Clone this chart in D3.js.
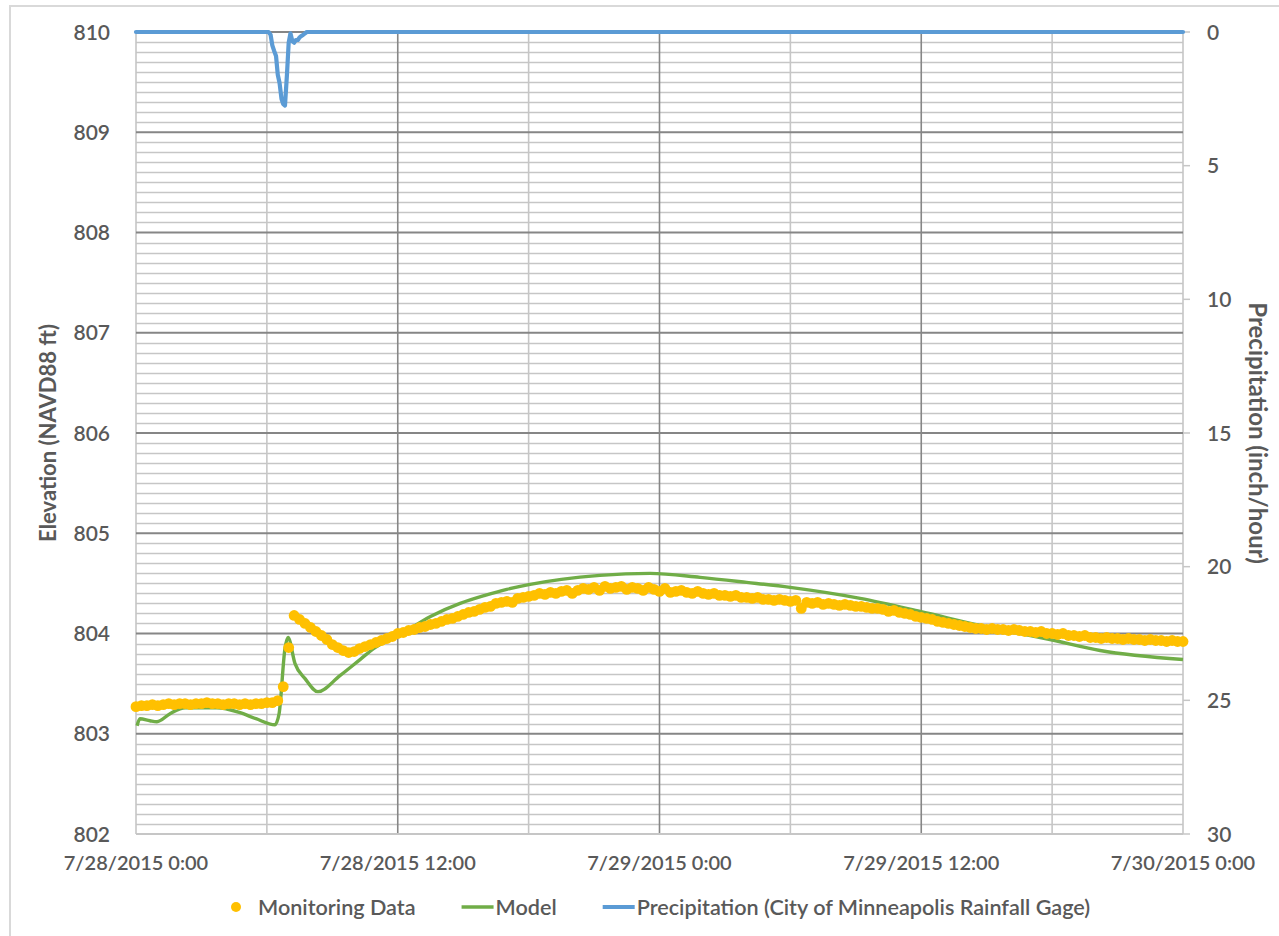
<!DOCTYPE html>
<html>
<head>
<meta charset="utf-8">
<script src="https://cdn.jsdelivr.net/npm/d3@7"></script>
<style>
  html, body { margin: 0; padding: 0; background: #fff; }
  svg { display: block; }
  text { font-family: Lato, "Open Sans", sans-serif; fill: #595959; }
</style>
</head>
<body>
<svg id="chart" width="1279" height="936"></svg>
<script>
// ---------- DATA ----------
const xTickHours = [0, 12, 24, 36, 48];
const xTickLabels = ["7/28/2015 0:00", "7/28/2015 12:00", "7/29/2015 0:00", "7/29/2015 12:00", "7/30/2015 0:00"];
const elevTicks = [802, 803, 804, 805, 806, 807, 808, 809, 810];
const precipTicks = [0, 5, 10, 15, 20, 25, 30];

// Monitoring data: 15-minute readings from 7/28/2015 0:00 (hours since start = index * 0.25)
const monitoringElev = [
  803.27, 803.28, 803.28, 803.29,
  803.28, 803.29, 803.30, 803.29,
  803.30, 803.30, 803.29, 803.30,
  803.30, 803.31, 803.30, 803.30,
  803.29, 803.30, 803.30, 803.29,
  803.30, 803.29, 803.30, 803.30,
  803.31, 803.31, 803.33, 803.47,
  803.86, 804.18, 804.14, 804.10,
  804.06, 804.02, 803.98, 803.94,
  803.89, 803.86, 803.83, 803.81,
  803.82, 803.85, 803.87, 803.89,
  803.91, 803.93, 803.95, 803.97,
  804.00, 804.01, 804.03, 804.04,
  804.06, 804.07, 804.09, 804.10,
  804.12, 804.14, 804.15, 804.17,
  804.19, 804.21, 804.22, 804.24,
  804.26, 804.27, 804.30, 804.31,
  804.32, 804.31, 804.35, 804.36,
  804.37, 804.38, 804.40, 804.39,
  804.41, 804.40, 804.42, 804.43,
  804.40, 804.43, 804.45, 804.44,
  804.46, 804.43, 804.47, 804.45,
  804.46, 804.47, 804.44, 804.46,
  804.45, 804.43, 804.46, 804.44,
  804.42, 804.45, 804.41, 804.42,
  804.43, 804.41, 804.40, 804.42,
  804.40, 804.39, 804.40, 804.38,
  804.38, 804.37, 804.38, 804.36,
  804.36, 804.35, 804.36, 804.34,
  804.34, 804.33, 804.34, 804.33,
  804.32, 804.33, 804.25, 804.31,
  804.30, 804.31, 804.29, 804.30,
  804.29, 804.28, 804.29, 804.28,
  804.27, 804.27, 804.26, 804.25,
  804.25, 804.24, 804.22, 804.23,
  804.21, 804.20, 804.19, 804.17,
  804.16, 804.15, 804.14, 804.12,
  804.11, 804.10, 804.09, 804.08,
  804.07, 804.06, 804.05, 804.05,
  804.04, 804.05, 804.04, 804.04,
  804.03, 804.04, 804.03, 804.02,
  804.02, 804.01, 804.02, 804.00,
  804.00, 803.99, 804.00, 803.98,
  803.98, 803.97, 803.98, 803.96,
  803.96, 803.95, 803.96, 803.95,
  803.95, 803.94, 803.95, 803.94,
  803.94, 803.93, 803.94, 803.93,
  803.93, 803.92, 803.93, 803.92,
  803.92
];

// Model output (hours since start, elevation ft)
const modelHours = [0.05, 0.18, 0.64, 0.96, 1.56, 2.25, 3.71, 4.77, 5.5, 6.37, 6.56, 6.83, 6.97, 7.29, 7.75, 8.34, 9.35, 10.27, 10.96, 11.97, 13.5, 14.86, 16.0, 17.0, 18.07, 19.5, 21.27, 23.57, 25.86, 28.0, 29.99, 33.2, 35.95, 38.7, 41.9, 44.2, 48.0];
const modelElev  = [803.08, 803.15, 803.13, 803.12, 803.20, 803.26, 803.26, 803.21, 803.15, 803.09, 803.20, 803.85, 803.96, 803.70, 803.55, 803.42, 803.58, 803.74, 803.86, 803.97, 804.17, 804.30, 804.38, 804.44, 804.49, 804.54, 804.58, 804.60, 804.56, 804.51, 804.46, 804.35, 804.22, 804.08, 803.94, 803.83, 803.74];

// Precipitation (hours since start, inch/hour)
const precipHours = [0, 6.0, 6.08, 6.17, 6.25, 6.33, 6.42, 6.5, 6.58, 6.67, 6.75, 6.83, 6.92, 7.0, 7.08, 7.17, 7.25, 7.33, 7.42, 7.5, 7.58, 7.67, 7.75, 7.83, 48];
const precipRate  = [0, 0, 0, 0.1, 0.5, 0.7, 0.9, 1.6, 1.9, 2.5, 2.7, 2.75, 1.6, 0.4, 0.05, 0.35, 0.4, 0.3, 0.3, 0.2, 0.15, 0.1, 0.05, 0, 0];

const legendLabels = ["Monitoring Data", "Model", "Precipitation (City of Minneapolis Rainfall Gage)"];

// ---------- CHART ----------
const svg = d3.select("#chart");
const L = 136, R = 1183, T = 32, B = 834;
const col = { mon: "#FFC000", model: "#70AD47", precip: "#5B9BD5", minor: "#c6c6c6", major: "#868686", text: "#595959" };

const x = d3.scaleLinear().domain([0, 48]).range([L, R]);
const y = d3.scaleLinear().domain([802, 810]).range([B, T]);
const y2 = d3.scaleLinear().domain([0, 30]).range([T, B]);

// outer border
svg.append("rect").attr("x", 10).attr("y", 6).attr("width", 1290).attr("height", 960)
  .attr("fill", "none").attr("stroke", "#d9d9d9").attr("stroke-width", 2);

const grid = svg.append("g");
const minorVals = d3.range(0, 81).map(i => 802 + i * 0.1);
grid.selectAll("line.hmin").data(minorVals.filter((v, i) => i % 10 !== 0))
  .join("line").attr("x1", L).attr("x2", R)
  .attr("y1", d => Math.round(y(d)) + 0.5).attr("y2", d => Math.round(y(d)) + 0.5)
  .attr("stroke", col.minor).attr("stroke-width", 1.6);
const vVals = d3.range(0, 49, 6);
grid.selectAll("line.v").data(vVals).join("line")
  .attr("x1", d => x(d)).attr("x2", d => x(d)).attr("y1", T).attr("y2", B)
  .attr("stroke", d => (d % 12 === 0 && d !== 0 && d !== 48) ? col.major : col.minor)
  .attr("stroke-width", 1.6);
grid.selectAll("line.hmaj").data(elevTicks).join("line")
  .attr("x1", L).attr("x2", R)
  .attr("y1", d => y(d)).attr("y2", d => y(d))
  .attr("stroke", d => d === 802 ? col.minor : col.major).attr("stroke-width", 1.8);

// left axis labels
svg.append("g").selectAll("text").data(elevTicks).join("text")
  .attr("x", 110).attr("y", d => y(d)).attr("dy", "0.36em")
  .attr("text-anchor", "end").style("font-size", "21px").style("font-weight", 600)
  .text(d => d);

// right axis ticks + labels
const rAxis = svg.append("g");
rAxis.selectAll("line").data(precipTicks).join("line")
  .attr("x1", R).attr("x2", R + 7).attr("y1", d => y2(d)).attr("y2", d => y2(d))
  .attr("stroke", col.minor).attr("stroke-width", 1.5);
rAxis.selectAll("text").data(precipTicks).join("text")
  .attr("x", 1207).attr("y", d => y2(d)).attr("dy", "0.36em")
  .attr("text-anchor", "start").style("font-size", "21px").style("font-weight", 600)
  .text(d => d);

// x axis labels
svg.append("g").selectAll("text").data(xTickHours).join("text")
  .attr("x", d => x(d)).attr("y", 863).attr("dy", "0.36em")
  .attr("text-anchor", "middle").style("font-size", "20px").style("font-weight", 600)
  .text((d, i) => xTickLabels[i]);

// axis titles
svg.append("text").attr("transform", `translate(48,${(T + B) / 2}) rotate(-90)`)
  .attr("text-anchor", "middle").attr("dy", "0.36em")
  .style("font-size", "22px").style("font-weight", 700).text("Elevation (NAVD88 ft)");
svg.append("text").attr("transform", `translate(1258,${(T + B) / 2}) rotate(90)`)
  .attr("text-anchor", "middle").attr("dy", "0.36em")
  .style("font-size", "24px").style("font-weight", 700).text("Precipitation (inch/hour)");

// model line
svg.append("path")
  .datum(modelHours.map((h, i) => [h, modelElev[i]]))
  .attr("fill", "none").attr("stroke", col.model).attr("stroke-width", 3.4)
  .attr("d", d3.line().x(d => x(d[0])).y(d => y(d[1])).curve(d3.curveMonotoneX));

// monitoring dots
svg.append("g").selectAll("circle").data(monitoringElev).join("circle")
  .attr("cx", (d, i) => x(i * 0.25)).attr("cy", d => y(d)).attr("r", 5.4)
  .attr("fill", col.mon);

// precipitation line
svg.append("path")
  .datum(precipHours.map((h, i) => [h, precipRate[i]]))
  .attr("fill", "none").attr("stroke", col.precip).attr("stroke-width", 4.2)
  .attr("stroke-linejoin", "round").attr("stroke-linecap", "round")
  .attr("d", d3.line().x(d => x(d[0])).y(d => y2(d[1])));

// legend (laid out left to right)
const lg = svg.append("g").style("font-size", "21.6px").style("font-weight", 600);
const ly = 907;
let cx = 236;
lg.append("circle").attr("cx", cx).attr("cy", ly).attr("r", 5).attr("fill", col.mon);
let t = lg.append("text").attr("x", 258).attr("y", ly).attr("dy", "0.36em").text(legendLabels[0]);
cx = 258 + t.node().getComputedTextLength() + 46;
lg.append("line").attr("x1", cx).attr("x2", cx + 32).attr("y1", ly).attr("y2", ly)
  .attr("stroke", col.model).attr("stroke-width", 3.4);
t = lg.append("text").attr("x", cx + 34).attr("y", ly).attr("dy", "0.36em").text(legendLabels[1]);
cx = cx + 34 + t.node().getComputedTextLength() + 46;
lg.append("line").attr("x1", cx).attr("x2", cx + 32).attr("y1", ly).attr("y2", ly)
  .attr("stroke", col.precip).attr("stroke-width", 4);
lg.append("text").attr("x", cx + 34).attr("y", ly).attr("dy", "0.36em").text(legendLabels[2]);
</script>
</body>
</html>
